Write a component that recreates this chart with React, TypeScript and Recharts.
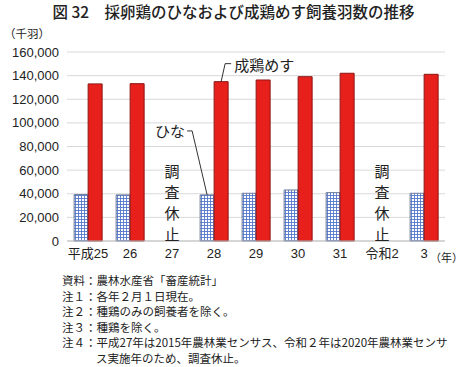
import React from 'react';
import { BarChart, Bar, XAxis, YAxis, CartesianGrid, LabelList, ReferenceDot } from 'recharts';

const years = ['平成25', '26', '27', '28', '29', '30', '31', '令和2', '3'];
const hina = [39300, 39000, null, 39000, 40400, 43200, 40900, null, 40400];
const seikeiMesu = [133000, 133200, null, 134900, 136300, 139100, 142000, null, 141100];
const yTicks = [0, 20000, 40000, 60000, 80000, 100000, 120000, 140000, 160000];
const suspended = ['27', '令和2'];
const notes = [
  '資料：農林水産省「畜産統計」',
  '注１：各年２月１日現在。',
  '注２：種鶏のみの飼養者を除く。',
  '注３：種鶏を除く。',
  '注４：平成27年は2015年農林業センサス、令和２年は2020年農林業センサ',
];
const noteCont = 'ス実施年のため、調査休止。';

const data = years.map((y, i) => ({ year: y, hina: hina[i], mesu: seikeiMesu[i] }));

const FONT = '"Liberation Sans", "Noto Sans CJK JP", sans-serif';
const JP = '"Noto Sans CJK JP", sans-serif';

// 平成28 bar (index 2 once the empty 27 entry is skipped)
const LABEL_INDEX = 2;

const HinaLabel = (props: any) => {
  const { x, y, width, index } = props;
  if (index !== LABEL_INDEX) return null;
  const cx = x + width / 2;
  return (
    <g>
      <polyline points={`${cx},${y} ${cx - 15},${y - 64} ${cx - 20},${y - 64}`} fill="none" stroke="#333" strokeWidth={1} />
      <text x={cx - 22} y={y - 58} textAnchor="end" fontSize={15} fontFamily={JP} fill="#222">ひな</text>
    </g>
  );
};

const MesuLabel = (props: any) => {
  const { x, y, width, index } = props;
  if (index !== LABEL_INDEX) return null;
  const cx = x + width / 2;
  return (
    <g>
      <polyline points={`${cx},${y} ${cx + 4},${y - 18} ${cx + 10},${y - 18}`} fill="none" stroke="#333" strokeWidth={1} />
      <text x={cx + 13} y={y - 11} fontSize={15} fontFamily={JP} fill="#222">成鶏めす</text>
    </g>
  );
};

const Suspended = (props: any) => {
  const { cx, cy } = props;
  const chars = ['調', '査', '休', '止'];
  return (
    <g>
      {chars.map((c, i) => (
        <text key={i} x={cx} y={cy - 64 + i * 21} textAnchor="middle" fontSize={15} fontFamily={JP} fill="#222">{c}</text>
      ))}
    </g>
  );
};

export default function App() {
  return (
    <div style={{ position: 'relative', width: 467, height: 367, background: '#fff', fontFamily: JP, color: '#222' }}>
      <style>{'body{margin:0}'}</style>
      <div style={{ position: 'absolute', left: 0, top: 0, width: 467, textAlign: 'center', fontSize: 15.5, fontWeight: 500, whiteSpace: 'nowrap' }}>
        図 32　採卵鶏のひなおよび成鶏めす飼養羽数の推移
      </div>
      <div style={{ position: 'absolute', left: 4, top: 25, fontSize: 11.5 }}>（千羽）</div>
      <BarChart
        width={467}
        height={367}
        data={data}
        margin={{ top: 52, right: 22, bottom: 106, left: 0 }}
        barCategoryGap="17%"
        barGap={0}
      >
        <defs>
          <pattern id="grid" width={3} height={3} patternUnits="userSpaceOnUse">
            <rect width={3} height={3} fill="#fff" />
            <path d="M0 0.5H3M0.5 0V3" stroke="#5577cc" strokeWidth={0.9} />
          </pattern>
        </defs>
        <CartesianGrid vertical={false} stroke="#d9d9d9" />
        <XAxis
          dataKey="year"
          axisLine={{ stroke: '#bfbfbf' }}
          tickLine={false}
          height={20}
          tick={{ fontSize: 13, fill: '#222', fontFamily: FONT }}
          interval={0}
        />
        <YAxis
          width={67}
          domain={[0, 160000]}
          ticks={yTicks}
          axisLine={false}
          tickLine={false}
          tick={{ fontSize: 13, fill: '#222', fontFamily: FONT }}
          tickFormatter={(v: number) => v.toLocaleString('en-US')}
        />
        <Bar dataKey="hina" fill="url(#grid)" stroke="#6b7a99" strokeWidth={1} isAnimationActive={false}>
          <LabelList dataKey="hina" content={HinaLabel} />
        </Bar>
        <Bar dataKey="mesu" fill="#e8201c" stroke="#8c1515" strokeWidth={1} isAnimationActive={false}>
          <LabelList dataKey="mesu" content={MesuLabel} />
        </Bar>
        {suspended.map((s) => (
          <ReferenceDot key={s} x={s} y={0} r={0} shape={Suspended} ifOverflow="visible" />
        ))}
      </BarChart>
      <div style={{ position: 'absolute', left: 430, top: 249, fontSize: 11, fontFamily: JP }}>（年）</div>
      <div style={{ position: 'absolute', left: 62, top: 273, fontSize: 11.5, lineHeight: '15.6px', whiteSpace: 'nowrap' }}>
        {notes.map((n, i) => (
          <div key={i}>{n}</div>
        ))}
        <div style={{ paddingLeft: 34 }}>{noteCont}</div>
      </div>
    </div>
  );
}
